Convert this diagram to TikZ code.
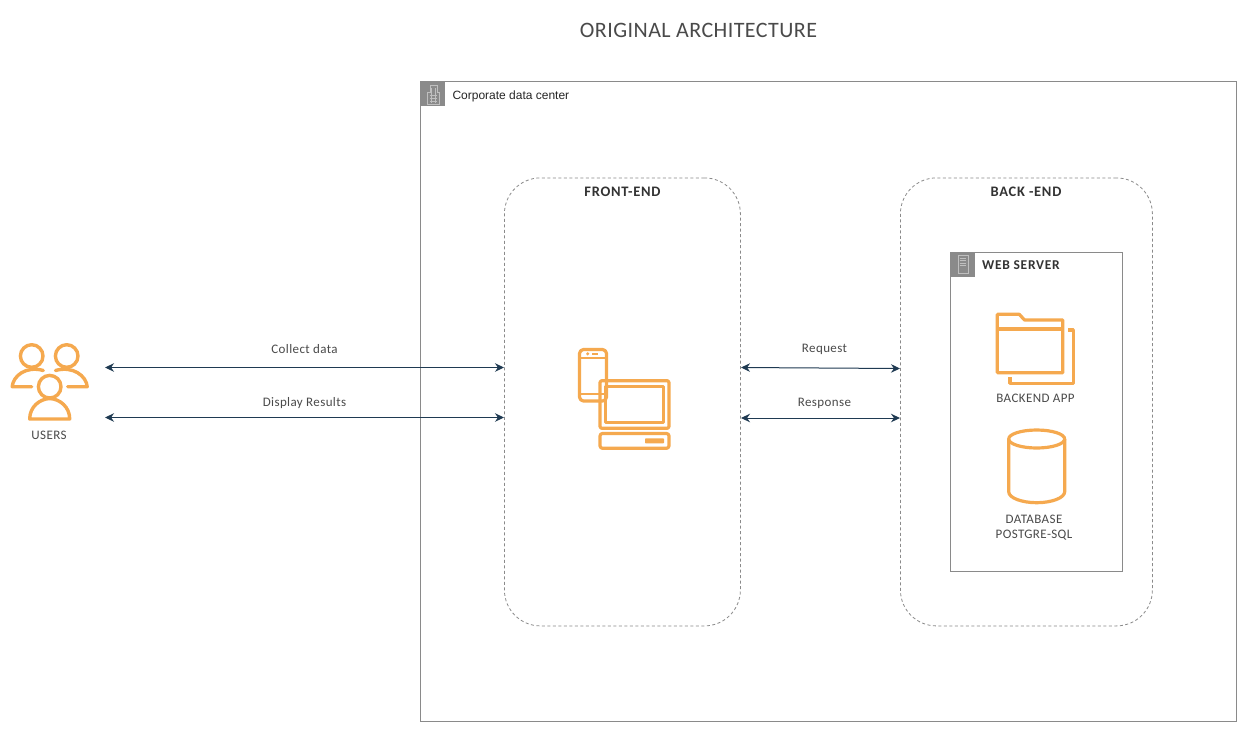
\documentclass[tikz,border=0pt]{standalone}
\usepackage{fontspec}
\setmainfont{Liberation Sans}
\newfontfamily\handfont[LetterSpace=3]{Carlito}
\newfontfamily\handtitle[LetterSpace=2]{Carlito}
\newfontfamily\handbf[LetterSpace=5]{Carlito}
\usetikzlibrary{arrows.meta}
\definecolor{awsorange}{HTML}{F5A94F}
\definecolor{boxgrey}{HTML}{8A8A8A}
\definecolor{linkdark}{HTML}{1F3A52}
\definecolor{labelgrey}{HTML}{4A4A4A}
\tikzset{
  x=1pt,y=-1pt,
  icon/.style={draw=awsorange,line width=3.4pt,line join=round,line cap=round},
  iconthin/.style={draw=awsorange,line width=3.2pt,line join=round},
  outerbox/.style={draw=boxgrey,line width=0.9pt,inner sep=0pt,anchor=north west},
  badge/.style={fill=boxgrey,draw=none,inner sep=0pt,anchor=north west,minimum width=25pt,minimum height=25pt},
  tier/.style={draw=boxgrey,line width=0.8pt,dash pattern=on 3pt off 2.5pt,rounded corners=36pt,inner sep=0pt,anchor=north west},
  link/.style={draw=linkdark,line width=1pt,{Stealth[length=9pt,width=8.5pt]}-{Stealth[length=9pt,width=8.5pt]}},
  hand/.style={font=\handfont\fontsize{13}{15}\selectfont,text=labelgrey,inner sep=0pt,align=center},
  handbold/.style={font=\handbf\bfseries\fontsize{14.5}{16}\selectfont,text=black!80,inner sep=0pt},
  glyph/.style={draw=white!75!black,line width=0.6pt},
}
\begin{document}
\begin{tikzpicture}
\useasboundingbox (0,0) rectangle (1247,732);
\fill[white] (0,0) rectangle (1247,732);

\node[inner sep=0pt,font=\handtitle\fontsize{22}{26}\selectfont,text=labelgrey] (title) at (698.5,30.5) {ORIGINAL ARCHITECTURE};

% corporate data centre
\node[outerbox,minimum width=816pt,minimum height=640pt] (corp) at (420,81) {};
\node[badge] (corpbadge) at (420,81) {};
\draw[glyph] (427.5,104.5) -- (427.5,92) -- (430,92) -- (430,85) -- (437.5,85) -- (437.5,92) -- (439.5,92) -- (439.5,104.5) -- cycle;
\foreach \yy in {95,98,101}{\draw[glyph,line width=0.5pt] (430,\yy) -- (437,\yy);}
\foreach \xx in {431.5,435.5}{\draw[glyph,line width=0.5pt] (\xx,88) -- (\xx,103);}
\node[anchor=west,inner sep=0pt,font=\fontsize{12}{14}\selectfont,text=black!85] (corplabel) at (452.3,96.5) {Corporate data center};

% tiers
\node[tier,minimum width=236pt,minimum height=448pt] (front) at (504,177.5) {};
\node[handbold] (frontlabel) at (622.5,192) {FRONT-END};
\node[tier,minimum width=252pt,minimum height=448pt] (back) at (900,177.5) {};
\node[handbold] (backlabel) at (1026,192) {BACK -END};

% web server
\node[outerbox,minimum width=172pt,minimum height=319.5pt] (web) at (950,251.5) {};
\node[badge] (webbadge) at (950,251.5) {};
\draw[glyph] (958,255) rectangle (968,273);
\foreach \yy in {258,260.5,263,265.5}{\draw[glyph,line width=0.5pt] (959.7,\yy) -- (966.3,\yy);}
\node[handbold,anchor=west,font=\handbf\bfseries\fontsize{13.5}{15}\selectfont] (weblabel) at (982,265.5) {WEB SERVER};

% users icon
\draw[icon] (31.7,356) circle[radius=11.3];
\draw[icon] (66.7,356) circle[radius=11.3];
\draw[icon] (31.7,386.7) -- (12.2,386.7) .. controls (13,376) and (26,365.5) .. (43.3,370.5);
\draw[icon] (67.7,386.7) -- (87.2,386.7) .. controls (86.4,376) and (73,365.5) .. (55.5,370.5);
\draw[fill=white,icon] (49.7,386.7) circle[radius=11.3];
\draw[icon] (29.7,419) -- (69.7,419) .. controls (69.7,407) and (60,399) .. (49.7,398.5) .. controls (39.4,399) and (29.7,407) .. (29.7,419) -- cycle;
\node[hand] (userslabel) at (49,435) {USERS};

% client devices
\draw[iconthin,rounded corners=4pt] (579.5,349.5) rectangle (606.5,401);
\draw[iconthin,line width=2pt] (579.5,358.3) -- (606.5,358.3);
\draw[iconthin,line width=2pt] (579.5,394.3) -- (606.5,394.3);
\fill[awsorange] (587.7,353.8) circle[radius=1.7];
\draw[iconthin,line width=1.6pt] (592.3,353.8) -- (598.3,353.8);
\draw[iconthin,rounded corners=2pt] (600,380.7) rectangle (669,428.3);
\draw[iconthin] (605.7,386.7) rectangle (663.3,422.7);
\draw[iconthin,rounded corners=2.5pt] (600,433.5) rectangle (669,448.3);
\fill[awsorange,rounded corners=0.8pt] (645,438.3) rectangle (664,443.3);

% folder icon
\draw[iconthin] (997.3,314.3) -- (1019.3,314.3) -- (1024.5,320) -- (1062.7,320) -- (1062.7,372.7) -- (997.3,372.7) -- cycle;
\draw[iconthin] (997.3,329) -- (1062.7,329);
\draw[iconthin] (1068.3,330) -- (1073.3,330) -- (1073.3,383.3) -- (1010,383.3) -- (1010,377.3);
\node[hand] (applabel) at (1035.5,398.5) {BACKEND APP};

% database icon
\draw[iconthin] (1036.7,439) ellipse[x radius=28,y radius=9];
\draw[iconthin] (1008.7,439) -- (1008.7,491.7) .. controls (1008.7,498) and (1022,502.7) .. (1036.7,502.7) .. controls (1051.4,502.7) and (1064.7,498) .. (1064.7,491.7) -- (1064.7,439);
\node[hand] (dblabel) at (1034,528) {DATABASE\\[0pt]POSTGRE-SQL};

% connectors
\coordinate (usersTop) at (105,367.5);
\coordinate (usersBot) at (105,417.5);
\coordinate (frontUserTop) at (front.west |- usersTop);
\coordinate (frontUserBot) at (front.west |- usersBot);
\coordinate (frontBackTop) at (741,367.5);
\coordinate (frontBackBot) at (741,418);
\coordinate (backFrontTop) at (back.west |- 0,368.5);
\coordinate (backFrontBot) at (back.west |- frontBackBot);
\draw[link] (usersTop) -- (frontUserTop);
\draw[link] (usersBot) -- (frontUserBot);
\draw[link] (frontBackTop) -- (backFrontTop);
\draw[link] (frontBackBot) -- (backFrontBot);
\node[hand] (collect) at (304.5,349.5) {Collect data};
\node[hand] (display) at (304.5,403.5) {Display Results};
\node[hand] (request) at (824.5,349) {Request};
\node[hand] (response) at (824.5,403.5) {Response};
\end{tikzpicture}
\end{document}
